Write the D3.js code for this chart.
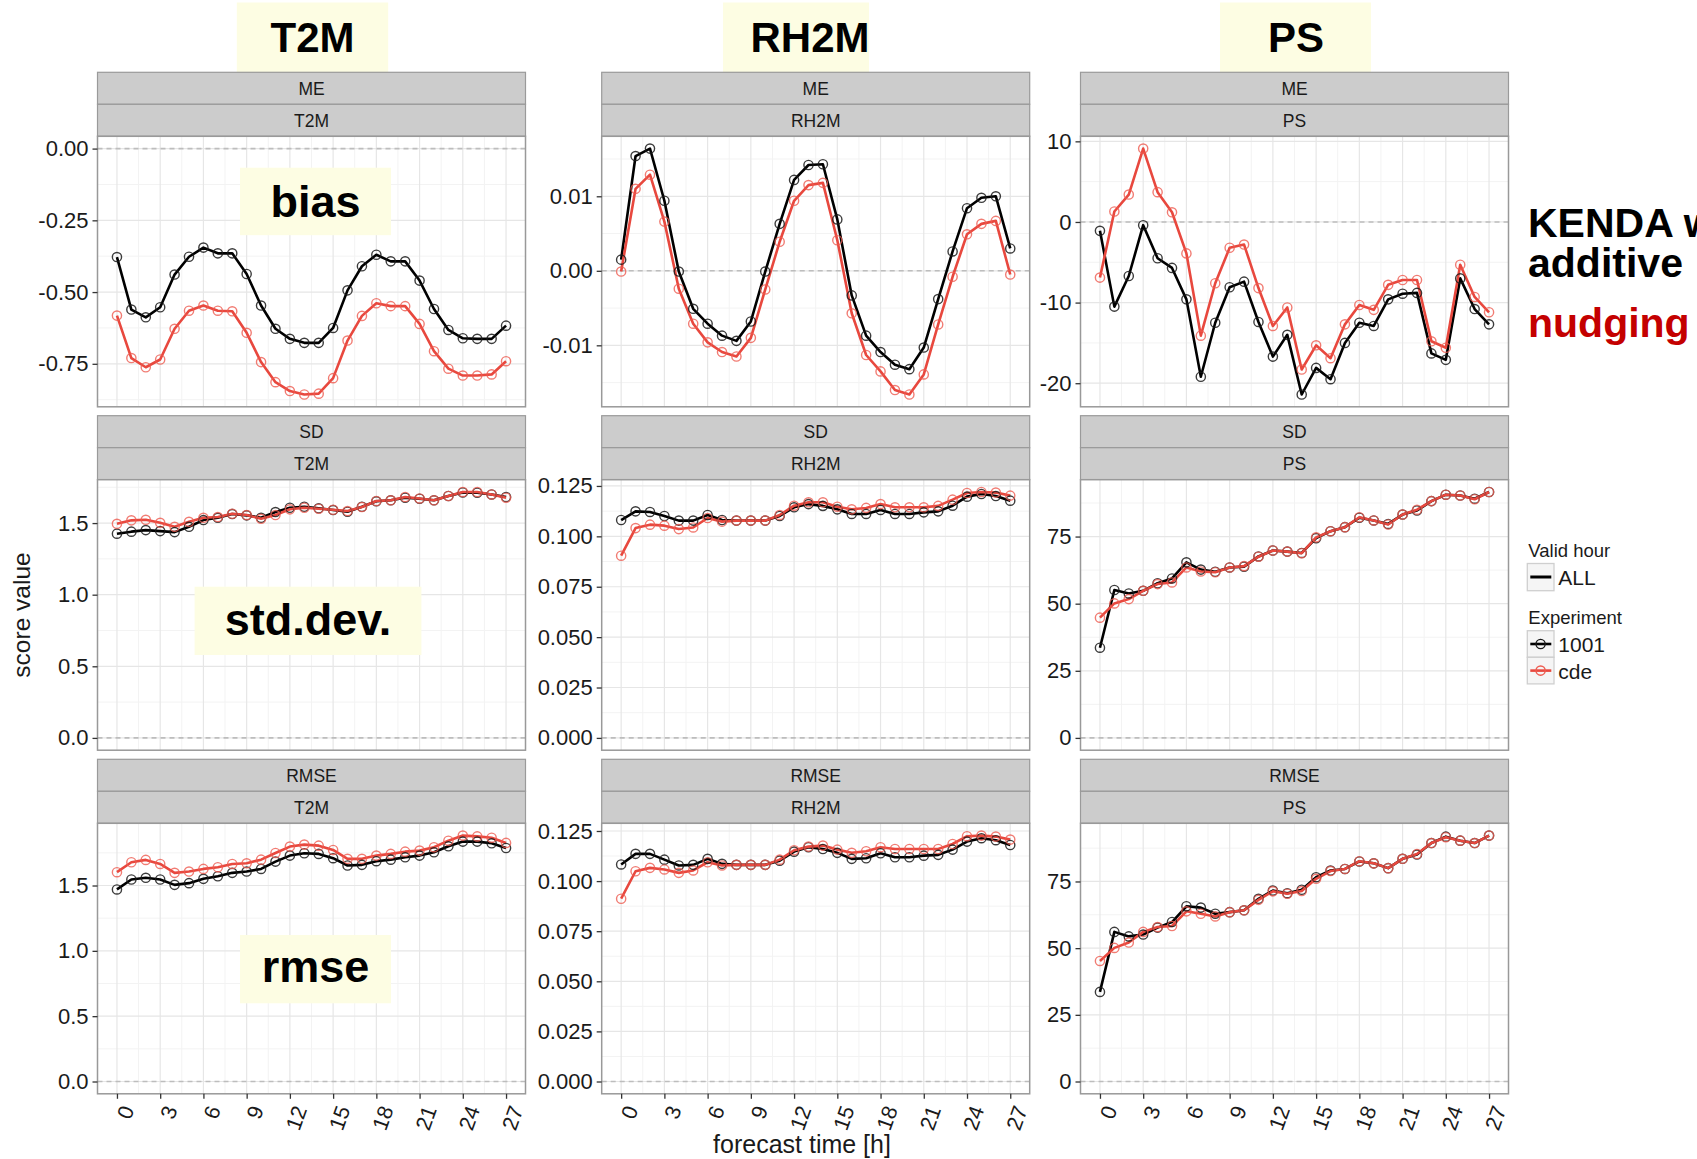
<!DOCTYPE html>
<html>
<head>
<meta charset="utf-8">
<script src="https://cdn.jsdelivr.net/npm/d3@7"></script>
<style>
body { margin: 0; background: #fff; }
svg { display: block; font-family: "Liberation Sans", Arial, Helvetica, sans-serif; }
</style>
</head>
<body>
<script>
// forecast hours and axis ticks
var hours = [0,1,2,3,4,5,6,7,8,9,10,11,12,13,14,15,16,17,18,19,20,21,22,23,24,25,26,27]
var xTicks = [0,3,6,9,12,15,18,21,24,27]
var scores = ['ME', 'SD', 'RMSE']
var params = ['T2M', 'RH2M', 'PS']
var experiments = ['1001', 'cde']
var validHours = ['ALL']

// ME
var t2mMe1001 = [-0.378,-0.561,-0.588,-0.553,-0.439,-0.377,-0.345,-0.365,-0.365,-0.437,-0.547,-0.628,-0.663,-0.677,-0.677,-0.625,-0.494,-0.410,-0.370,-0.393,-0.393,-0.460,-0.559,-0.632,-0.661,-0.663,-0.663,-0.617]
var t2mMeCde = [-0.582,-0.730,-0.762,-0.735,-0.628,-0.565,-0.547,-0.565,-0.567,-0.642,-0.744,-0.814,-0.845,-0.857,-0.854,-0.800,-0.669,-0.583,-0.539,-0.549,-0.549,-0.611,-0.706,-0.767,-0.791,-0.791,-0.787,-0.741]
var rh2mMe1001 = [0.0015,0.0154,0.0164,0.0094,-0.0001,-0.0051,-0.0071,-0.0087,-0.0094,-0.0068,-0.0001,0.0063,0.0122,0.0142,0.0143,0.0069,-0.0033,-0.0087,-0.0109,-0.0126,-0.0132,-0.0103,-0.0038,0.0026,0.0084,0.0098,0.0100,0.0030]
var rh2mMeCde = [-0.0001,0.0110,0.0129,0.0066,-0.0024,-0.0071,-0.0096,-0.0109,-0.0115,-0.0090,-0.0025,0.0039,0.0094,0.0115,0.0118,0.0041,-0.0057,-0.0113,-0.0135,-0.0160,-0.0166,-0.0139,-0.0072,-0.0008,0.0049,0.0063,0.0067,-0.0005]
var psMe1001 = [-1.1,-10.5,-6.7,-0.4,-4.5,-5.7,-9.6,-19.2,-12.5,-8.1,-7.4,-12.4,-16.7,-14.0,-21.4,-18.1,-19.5,-15.0,-12.5,-12.9,-9.6,-8.9,-8.8,-16.3,-17.1,-7.0,-10.8,-12.7]
var psMeCde = [-6.9,1.3,3.4,9.1,3.7,1.2,-3.9,-14.1,-7.6,-3.2,-2.8,-8.2,-12.9,-10.6,-18.3,-15.3,-16.9,-12.7,-10.3,-10.9,-7.8,-7.2,-7.2,-14.8,-15.6,-5.3,-9.3,-11.2]

// SD
var t2mSd1001 = [1.426,1.440,1.451,1.444,1.437,1.474,1.521,1.537,1.563,1.554,1.537,1.577,1.607,1.614,1.603,1.591,1.579,1.614,1.652,1.659,1.677,1.670,1.659,1.689,1.714,1.712,1.700,1.682]
var t2mSdCde = [1.495,1.519,1.523,1.502,1.474,1.509,1.537,1.542,1.565,1.556,1.530,1.556,1.596,1.607,1.600,1.593,1.584,1.612,1.654,1.659,1.682,1.672,1.659,1.689,1.717,1.717,1.700,1.677]
var rh2mSd1001 = [0.1081,0.1124,0.1121,0.1101,0.1078,0.1078,0.1106,0.1081,0.1078,0.1078,0.1078,0.1101,0.1144,0.1160,0.1151,0.1134,0.1111,0.1111,0.1131,0.1111,0.1111,0.1119,0.1124,0.1152,0.1197,0.1210,0.1200,0.1177]
var rh2mSdCde = [0.0904,0.1041,0.1058,0.1053,0.1036,0.1044,0.1091,0.1073,0.1078,0.1078,0.1078,0.1106,0.1152,0.1169,0.1169,0.1147,0.1134,0.1141,0.1160,0.1144,0.1144,0.1144,0.1151,0.1182,0.1215,0.1220,0.1217,0.1202]
var psSd1001 = [33.6,55.1,53.8,54.8,57.6,59.4,65.4,62.7,61.9,63.5,63.8,67.6,69.8,69.4,68.9,74.4,77.0,78.5,82.0,81.0,79.7,83.2,84.7,88.2,90.6,90.3,89.1,91.6]
var psSdCde = [44.8,50.1,51.7,54.8,57.3,57.9,63.5,62.0,61.7,63.5,64.0,67.5,69.8,69.4,68.8,74.7,77.0,78.5,82.2,81.0,79.5,83.2,85.0,88.2,90.6,90.3,88.9,91.6]

// RMSE
var t2mRmse1001 = [1.470,1.546,1.559,1.546,1.505,1.518,1.551,1.571,1.597,1.607,1.627,1.683,1.729,1.747,1.742,1.709,1.653,1.658,1.686,1.698,1.716,1.729,1.754,1.800,1.836,1.836,1.823,1.787]
var t2mRmseCde = [1.602,1.678,1.696,1.665,1.597,1.607,1.627,1.640,1.665,1.670,1.698,1.749,1.798,1.813,1.805,1.772,1.704,1.704,1.729,1.742,1.759,1.767,1.793,1.843,1.882,1.876,1.866,1.826]
var rh2mRmse1001 = [0.1083,0.1136,0.1136,0.1107,0.1078,0.1081,0.1111,0.1086,0.1081,0.1081,0.1081,0.1102,0.1147,0.1169,0.1160,0.1141,0.1111,0.1114,0.1139,0.1119,0.1119,0.1127,0.1131,0.1157,0.1197,0.1214,0.1204,0.1180]
var rh2mRmseCde = [0.0912,0.1049,0.1066,0.1058,0.1041,0.1053,0.1094,0.1078,0.1081,0.1081,0.1081,0.1107,0.1154,0.1172,0.1177,0.1157,0.1141,0.1149,0.1169,0.1160,0.1160,0.1160,0.1160,0.1185,0.1224,0.1227,0.1222,0.1207]
var psRmse1001 = [33.6,56.1,54.4,55.1,57.7,59.8,65.7,65.2,62.9,63.5,64.2,68.5,71.6,70.6,71.9,76.6,79.1,79.7,82.5,81.8,80.0,83.5,85.1,89.4,91.8,90.3,89.4,92.2]
var psRmseCde = [45.2,50.1,52.1,56.1,57.9,58.3,63.8,62.9,61.9,63.5,64.2,68.1,71.3,70.4,71.4,76.0,78.9,79.7,82.6,81.8,80.0,83.5,85.3,89.4,91.6,90.3,89.4,92.2]

// y tick values per panel
var t2mMeTicks = [-0.75,-0.5,-0.25,0]
var rh2mMeTicks = [-0.01,0,0.01]
var psMeTicks = [-20,-10,0,10]
var t2mErrTicks = [0,0.5,1,1.5]
var rh2mErrTicks = [0,0.025,0.05,0.075,0.1,0.125]
var psErrTicks = [0,25,50,75]

// overlay labels
var paramTitles = ['T2M', 'RH2M', 'PS']
var rowLabels = ['bias', 'std.dev.', 'rmse']
var sideText = ['KENDA with', 'additive', 'nudging']

var colors = {'1001': '#000000', 'cde': '#E8483E'}
var pointColors = {'1001': '#1a1a1a', 'cde': '#EE5B50'}

var panels = [
    {row: 0, col: 0, series: [t2mMe1001, t2mMeCde], ticks: t2mMeTicks, fmt: '.2f'},
    {row: 0, col: 1, series: [rh2mMe1001, rh2mMeCde], ticks: rh2mMeTicks, fmt: '.2f'},
    {row: 0, col: 2, series: [psMe1001, psMeCde], ticks: psMeTicks, fmt: 'd'},
    {row: 1, col: 0, series: [t2mSd1001, t2mSdCde], ticks: t2mErrTicks, fmt: '.1f'},
    {row: 1, col: 1, series: [rh2mSd1001, rh2mSdCde], ticks: rh2mErrTicks, fmt: '.3f'},
    {row: 1, col: 2, series: [psSd1001, psSdCde], ticks: psErrTicks, fmt: 'd'},
    {row: 2, col: 0, series: [t2mRmse1001, t2mRmseCde], ticks: t2mErrTicks, fmt: '.1f'},
    {row: 2, col: 1, series: [rh2mRmse1001, rh2mRmseCde], ticks: rh2mErrTicks, fmt: '.3f'},
    {row: 2, col: 2, series: [psRmse1001, psRmseCde], ticks: psErrTicks, fmt: 'd'}
]

var W = 1697, H = 1159
var colX = [97.5, 601.7, 1080.5]
var panelW = 428
var rowTop = [72.3, 415.7, 759.3]
var stripH = 32
var panelH = 270.5

var svg = d3.select('body').append('svg')
    .attr('width', W)
    .attr('height', H)

// title boxes go behind strips
var titleBoxes = [{x: 236.8, w: 151.4, tx: 312.5}, {x: 723, w: 146, tx: 810}, {x: 1220, w: 151, tx: 1296}]
paramTitles.forEach(function (t, i) {
    var b = titleBoxes[i]
    svg.append('rect')
        .attr('x', b.x).attr('y', 2.5)
        .attr('width', b.w).attr('height', 72)
        .attr('fill', '#fdfde3')
    svg.append('text')
        .attr('x', b.tx).attr('y', 52)
        .attr('text-anchor', 'middle')
        .style('font-size', '42px').style('font-weight', 'bold')
        .text(t)
})

function expand(vals) {
    var ext = d3.extent(vals.concat([0]))
    var pad = (ext[1] - ext[0]) * 0.05
    return [ext[0] - pad, ext[1] + pad]
}

function midpoints(ticks, domain) {
    var step = ticks[1] - ticks[0]
    var res = []
    ticks.forEach(function (t) {
        res.push(t - step / 2)
    })
    res.push(ticks[ticks.length - 1] + step / 2)
    return res.filter(function (v) {
        return v > Math.min(domain[0], domain[1]) && v < Math.max(domain[0], domain[1])
    })
}

function drawPanel(p) {
    var x0 = colX[p.col]
    var top = rowTop[p.row]
    var pTop = top + 2 * stripH
    var pBot = pTop + panelH
    var g = svg.append('g')

    // strips
    g.append('rect')
        .attr('x', x0).attr('y', top).attr('width', panelW).attr('height', stripH)
        .attr('fill', '#cccccc').attr('stroke', '#9a9a9a').attr('stroke-width', 1.2)
    g.append('rect')
        .attr('x', x0).attr('y', top + stripH).attr('width', panelW).attr('height', stripH)
        .attr('fill', '#cccccc').attr('stroke', '#9a9a9a').attr('stroke-width', 1.2)
    g.append('text')
        .attr('x', x0 + panelW / 2).attr('y', top + stripH / 2).attr('dy', '0.36em')
        .attr('text-anchor', 'middle').attr('fill', '#1a1a1a')
        .style('font-size', '17.5px')
        .text(scores[p.row])
    g.append('text')
        .attr('x', x0 + panelW / 2).attr('y', top + stripH * 1.5).attr('dy', '0.36em')
        .attr('text-anchor', 'middle').attr('fill', '#1a1a1a')
        .style('font-size', '17.5px')
        .text(params[p.col])

    var hx = expand(hours)
    var x = d3.scaleLinear()
        .domain(hx)
        .range([x0, x0 + panelW])
    var allVals = p.series[0].concat(p.series[1])
    var y = d3.scaleLinear()
        .domain(expand(allVals))
        .range([pBot, pTop])

    g.append('rect')
        .attr('x', x0).attr('y', pTop).attr('width', panelW).attr('height', panelH)
        .attr('fill', '#ffffff')

    // grid
    var xMinor = midpoints(xTicks, x.domain())
    var yMinor = midpoints(p.ticks, y.domain())
    g.selectAll('line.xminor').data(xMinor).enter().append('line')
        .attr('x1', function (d) { return x(d) }).attr('x2', function (d) { return x(d) })
        .attr('y1', pTop).attr('y2', pBot)
        .attr('stroke', '#f3f3f3').attr('stroke-width', 1)
    g.selectAll('line.yminor').data(yMinor).enter().append('line')
        .attr('y1', function (d) { return y(d) }).attr('y2', function (d) { return y(d) })
        .attr('x1', x0).attr('x2', x0 + panelW)
        .attr('stroke', '#f3f3f3').attr('stroke-width', 1)
    g.selectAll('line.xmajor').data(xTicks).enter().append('line')
        .attr('x1', function (d) { return x(d) }).attr('x2', function (d) { return x(d) })
        .attr('y1', pTop).attr('y2', pBot)
        .attr('stroke', '#e6e6e6').attr('stroke-width', 1.2)
    g.selectAll('line.ymajor').data(p.ticks).enter().append('line')
        .attr('y1', function (d) { return y(d) }).attr('y2', function (d) { return y(d) })
        .attr('x1', x0).attr('x2', x0 + panelW)
        .attr('stroke', '#e6e6e6').attr('stroke-width', 1.2)

    // zero line
    g.append('line')
        .attr('x1', x0).attr('x2', x0 + panelW)
        .attr('y1', y(0)).attr('y2', y(0))
        .attr('stroke', '#bdbdbd').attr('stroke-width', 1.6)
        .attr('stroke-dasharray', '5,4')

    var line = d3.line()
        .x(function (d, i) { return x(hours[i]) })
        .y(function (d) { return y(d) })

    experiments.forEach(function (e, k) {
        g.append('path')
            .attr('d', line(p.series[k]))
            .attr('fill', 'none')
            .attr('stroke', colors[e])
            .attr('stroke-width', 2.6)
            .attr('stroke-linejoin', 'round')
    })
    experiments.forEach(function (e, k) {
        g.selectAll('circle.s' + k)
            .data(p.series[k])
            .enter()
            .append('circle')
            .attr('class', 's' + k)
            .attr('cx', function (d, i) { return x(hours[i]) })
            .attr('cy', function (d) { return y(d) })
            .attr('r', 4.6)
            .attr('fill', 'none')
            .attr('stroke', pointColors[e])
            .attr('stroke-width', 1.4)
            .attr('stroke-opacity', k === 0 ? 0.85 : 0.8)
    })

    // border
    g.append('rect')
        .attr('x', x0).attr('y', pTop).attr('width', panelW).attr('height', panelH)
        .attr('fill', 'none').attr('stroke', '#999999').attr('stroke-width', 1.5)

    var fmt = d3.format(p.fmt)
    var yAxis = g.append('g')
        .attr('transform', 'translate(' + x0 + ',0)')
        .call(d3.axisLeft(y).tickValues(p.ticks).tickSize(5).tickPadding(4)
            .tickFormat(function (d) { return fmt(d).replace('\u2212', '-') }))
    yAxis.select('.domain').remove()
    yAxis.selectAll('line').attr('stroke', '#333').attr('stroke-width', 1.3)
    yAxis.selectAll('text')
        .attr('fill', '#1a1a1a')
        .style('font-size', '22px')
        .style('font-family', '"Liberation Sans", Arial, sans-serif')

    if (p.row === 2) {
        var xAxis = g.append('g')
            .attr('transform', 'translate(0,' + pBot + ')')
            .call(d3.axisBottom(x).tickValues(xTicks).tickSize(5))
        xAxis.select('.domain').remove()
        xAxis.selectAll('line').attr('stroke', '#333').attr('stroke-width', 1.3)
        xAxis.selectAll('text')
            .attr('x', 10).attr('y', 13).attr('dy', '0.35em')
            .attr('text-anchor', 'end')
            .attr('transform', 'rotate(-70 10 13)')
            .attr('fill', '#1a1a1a')
            .style('font-size', '21.5px')
            .style('font-family', '"Liberation Sans", Arial, sans-serif')
    }
}

panels.forEach(drawPanel)

// row annotation boxes
var rowBoxes = [
    {x: 240, y: 167.7, w: 151, h: 67.5, by: 216.5},
    {x: 194.6, y: 586.7, w: 226.8, h: 68.3, by: 635},
    {x: 240, y: 935, w: 151, h: 68.3, by: 982}
]
rowLabels.forEach(function (t, i) {
    var b = rowBoxes[i]
    svg.append('rect')
        .attr('x', b.x).attr('y', b.y).attr('width', b.w).attr('height', b.h)
        .attr('fill', '#fdfde3')
    svg.append('text')
        .attr('x', b.x + b.w / 2).attr('y', b.by)
        .attr('text-anchor', 'middle')
        .style('font-size', '45px').style('font-weight', 'bold')
        .text(t)
})

// axis titles
svg.append('text')
    .attr('transform', 'translate(30,615) rotate(-90)')
    .attr('text-anchor', 'middle')
    .attr('fill', '#1a1a1a')
    .style('font-size', '24.5px')
    .text('score value')
svg.append('text')
    .attr('x', 802).attr('y', 1153)
    .attr('text-anchor', 'middle')
    .attr('fill', '#1a1a1a')
    .style('font-size', '25px')
    .text('forecast time [h]')

// legend
var lx = 1527.3
var legend = svg.append('g')
legend.append('text').attr('x', lx + 1).attr('y', 557)
    .style('font-size', '18.5px').attr('fill', '#1a1a1a').text('Valid hour')
legend.append('rect').attr('x', lx).attr('y', 563.5).attr('width', 26.7).attr('height', 27.2)
    .attr('fill', '#f5f5f5').attr('stroke', '#cfcfcf').attr('stroke-width', 1.3)
legend.append('line').attr('x1', lx + 3).attr('x2', lx + 24).attr('y1', 577).attr('y2', 577)
    .attr('stroke', '#000').attr('stroke-width', 3)
legend.append('text').attr('x', lx + 31).attr('y', 585)
    .style('font-size', '21px').attr('fill', '#1a1a1a').text(validHours[0])
legend.append('text').attr('x', lx + 1).attr('y', 624)
    .style('font-size', '18.5px').attr('fill', '#1a1a1a').text('Experiment')
experiments.forEach(function (e, k) {
    var ky = 630.7 + k * 26.6
    legend.append('rect').attr('x', lx).attr('y', ky).attr('width', 26.7).attr('height', 26.6)
        .attr('fill', '#f5f5f5').attr('stroke', '#cfcfcf').attr('stroke-width', 1.3)
    legend.append('line').attr('x1', lx + 3).attr('x2', lx + 24).attr('y1', ky + 13.3).attr('y2', ky + 13.3)
        .attr('stroke', colors[e]).attr('stroke-width', 2.6)
    legend.append('circle').attr('cx', lx + 13.3).attr('cy', ky + 13.3).attr('r', 4.6)
        .attr('fill', 'none').attr('stroke', pointColors[e]).attr('stroke-width', 1.4)
    legend.append('text').attr('x', lx + 31).attr('y', ky + 21.5)
        .style('font-size', '21px').attr('fill', '#1a1a1a').text(e)
})

// side note, cut at the right edge as in the slide
var sideY = [236.7, 276.7, 336.7]
var sideColors = ['#000000', '#000000', '#c40000']
sideText.forEach(function (t, i) {
    svg.append('text')
        .attr('x', 1528).attr('y', sideY[i])
        .attr('fill', sideColors[i])
        .style('font-size', '41px').style('font-weight', 'bold')
        .text(t)
})
</script>
</body>
</html>
